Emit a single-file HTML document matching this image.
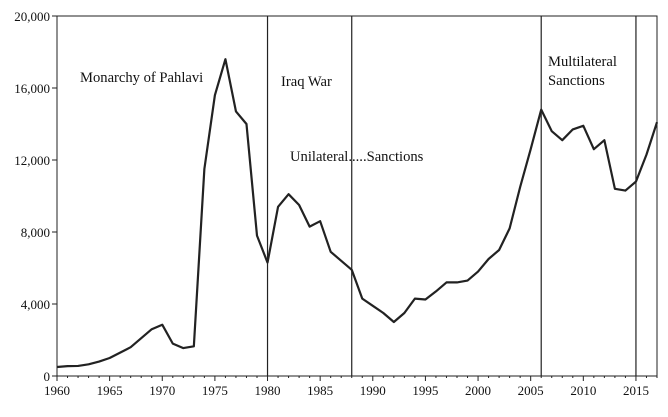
<!DOCTYPE html>
<html><head><meta charset="utf-8"><style>
body{margin:0;background:#fff}
svg text{font-family:"Liberation Serif",serif;font-size:13px;fill:#111}
svg text.ann{font-size:14.6px}
</style></head><body>
<svg id="c" width="668" height="412"></svg>
<script>
const years=[];for(let y=1960;y<=2017;y++)years.push(y);
const values=[500,550,560,650,800,1000,1300,1600,2100,2600,2850,1800,1550,1650,11500,15600,17600,14700,14000,7800,6300,9400,10100,9500,8300,8600,6900,6400,5900,4300,3900,3500,3000,3500,4300,4250,4700,5200,5200,5300,5800,6500,7000,8200,10500,12600,14800,13600,13100,13700,13900,12600,13100,10400,10300,10800,12300,14100];
const yTicks=[0,4000,8000,12000,16000,20000];
const xTicks=[1960,1965,1970,1975,1980,1985,1990,1995,2000,2005,2010,2015];
const events=[1980,1988,2006,2015];
const L=57,R=657,T=16,B=376;
const sx=y=>L+(y-1960)*(R-L)/57;
const sy=v=>B-v*(B-T)/20000;
const s=document.getElementById('c');const NS='http://www.w3.org/2000/svg';
function el(t,a,txt){const e=document.createElementNS(NS,t);for(const k in a)e.setAttribute(k,a[k]);if(txt!==undefined)e.textContent=txt;s.appendChild(e);return e;}
let e=el('rect',{x:L,y:T,width:R-L,height:B-T,fill:'none',stroke:'#222','stroke-width':1});

yTicks.forEach(v=>{el('line',{x1:L-5,x2:L,y1:sy(v),y2:sy(v),stroke:'#222'});
 e=el('text',{x:L-7,y:sy(v)+5,'text-anchor':'end'},v.toLocaleString('en-US'));
 });
years.forEach(y=>el('line',{x1:sx(y),x2:sx(y),y1:B,y2:B+(y%5?2:5),stroke:'#222'}));
xTicks.forEach(y=>{e=el('text',{x:sx(y),y:B+19,'text-anchor':'middle'},y);
 });
events.forEach(y=>{e=el('line',{x1:sx(y),x2:sx(y),y1:T,y2:B,stroke:'#222','stroke-width':1.2});
 });
e=el('polyline',{points:years.map((y,i)=>sx(y)+','+sy(values[i])).join(' '),fill:'none',stroke:'#222','stroke-width':2.2,'stroke-linejoin':'round'});

[['Monarchy of Pahlavi',80,82],['Iraq War',281,86],['Unilateral.....Sanctions',290,161],['Multilateral',548,66],['Sanctions',548,85]].forEach(a=>{
 e=el('text',{x:a[1],y:a[2],class:'ann'},a[0]);});
</script></body></html>
